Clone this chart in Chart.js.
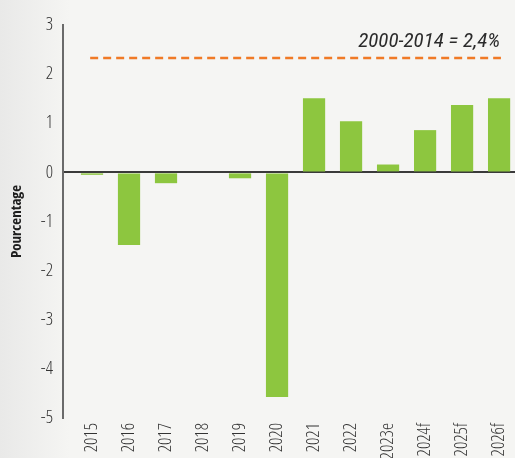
<!DOCTYPE html>
<html>
<head>
<meta charset="utf-8">
<script src="https://cdn.jsdelivr.net/npm/chart.js@4.4.0/dist/chart.umd.min.js"></script>
<style>
  html, body { margin: 0; padding: 0; overflow: hidden; }
  body { background: linear-gradient(to right, #e9e9e8 0px, #f5f5f3 70px); }
  #wrap { width: 515px; height: 458px; position: relative; }
</style>
</head>
<body>
<div id="wrap"><canvas id="chart"></canvas></div>
<script>
const years = ['2015', '2016', '2017', '2018', '2019', '2020', '2021', '2022', '2023e', '2024f', '2025f', '2026f'];
const growth = [-0.05, -1.48, -0.22, 0, -0.12, -4.57, 1.51, 1.04, 0.16, 0.86, 1.37, 1.51];
const avgValue = 2.33;          // 2000-2014 average, drawn as dashed line
const avgLabel = '2000-2014 = 2,4%';
const yTicks = { min: -5, max: 3, step: 1 };

// Open Sans has a width axis here, so "condensed" gives a narrow face
const FONT = '"Open Sans", sans-serif';

// text above the dashed reference line
const avgLabelPlugin = {
  id: 'avgLabel',
  afterDatasetsDraw(chart) {
    const { ctx, scales } = chart;
    const x = scales.x.getPixelForValue(years.length - 1) + 1;
    const y = scales.y.getPixelForValue(avgValue);
    ctx.save();
    ctx.font = 'italic 21px "Roboto Condensed", ' + FONT;
    ctx.fillStyle = '#2b2b2b';
    ctx.textAlign = 'right';
    ctx.textBaseline = 'bottom';
    ctx.fillText(avgLabel, x, y - 6);
    ctx.restore();
  }
};

const ctx = document.getElementById('chart').getContext('2d');
new Chart(ctx, {
  data: {
    datasets: [
      {
        type: 'line',
        data: [{ x: -0.05, y: avgValue }, { x: years.length - 0.95, y: avgValue }],
        borderColor: '#f07a26',
        borderWidth: 2.5,
        borderDash: [8, 5],
        pointRadius: 0
      },
      {
        type: 'bar',
        data: growth.map((v, i) => ({ x: i, y: v })),
        backgroundColor: '#8dc63f',
        categoryPercentage: 0.6,
        barPercentage: 1.0
      }
    ]
  },
  options: {
    responsive: true,
    maintainAspectRatio: false,
    animation: false,
    layout: { padding: { top: 25, right: 0, bottom: 0, left: 0 } },
    plugins: {
      legend: { display: false },
      tooltip: { enabled: false }
    },
    scales: {
      x: {
        type: 'linear',
        min: -0.784,
        max: 11.43,
        offset: false,
        grid: { display: false, offset: false, drawTicks: false },
        border: { display: false },
        afterFit(scale) {
          scale.height = 40;
          scale.paddingLeft = 0;
          scale.paddingRight = 0;
        },
        ticks: {
          stepSize: 1,
          includeBounds: false,
          autoSkip: false,
          minRotation: 90,
          maxRotation: 90,
          padding: 5,
          color: '#333',
          font: { family: FONT, size: 18, weight: '300 condensed' },
          callback: (v) => years[v] ?? ''
        }
      },
      y: {
        min: yTicks.min,
        max: yTicks.max,
        afterFit(scale) { scale.width = 63; },
        grid: {
          drawTicks: false,
          color: (c) => c.tick && c.tick.value === 0 ? '#3a3a3a' : 'rgba(0,0,0,0)',
          lineWidth: 2
        },
        border: { display: true, color: '#6a6a6a', width: 2 },
        title: {
          display: true,
          text: 'Pourcentage',
          color: '#1e1e1e',
          font: { family: FONT, size: 15, weight: 'bold condensed' },
          padding: { top: 8, bottom: 0 }
        },
        ticks: {
          stepSize: yTicks.step,
          padding: 10,
          color: '#333',
          font: { family: FONT, size: 18, weight: '300 condensed' }
        }
      }
    }
  },
  plugins: [avgLabelPlugin]
});
</script>
</body>
</html>
